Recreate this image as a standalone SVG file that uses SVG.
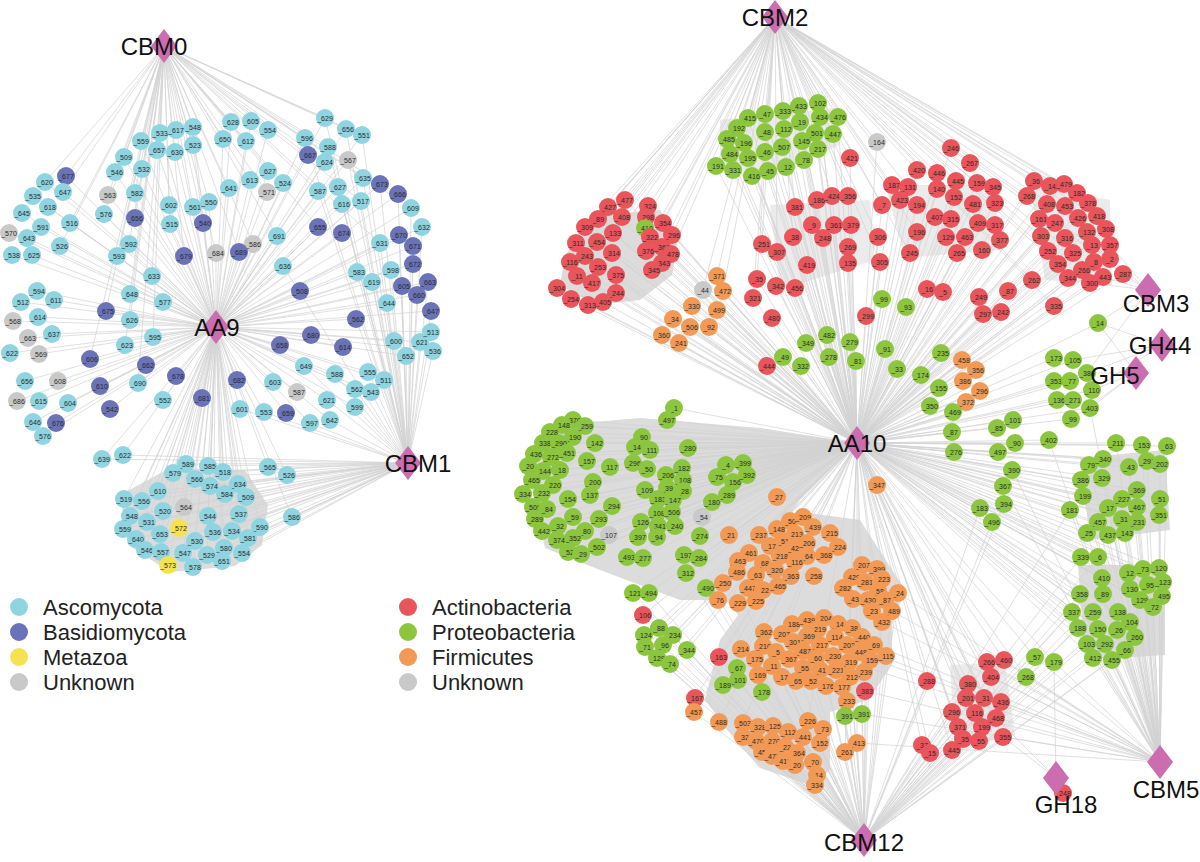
<svg xmlns="http://www.w3.org/2000/svg" width="1200" height="862" viewBox="0 0 1200 862">
<style>
circle{r:9px}
.A circle{fill:#8fd4e1}.B circle{fill:#6a72b8}.M circle{fill:#f5e251}.U circle{fill:#c9c9c9}
.R circle{fill:#e8555b}.G circle{fill:#8cc63e}.F circle{fill:#f29a55}
.nd text{font-family:"Liberation Sans",Arial,sans-serif;font-size:7px;fill:#2a2a2a;text-anchor:middle}
.e{fill:none;stroke:#d2d2d2;stroke-width:0.7}
.blob{fill:#dcdcdc}
.soft{fill:#e2e2e2;opacity:.7}
.hub polygon{fill:#cc6db0}
.hub text{font-family:"Liberation Sans",Arial,sans-serif;font-size:24px;fill:#111;text-anchor:middle}
.lg text{font-family:"Liberation Sans",Arial,sans-serif;font-size:22px;fill:#222;text-anchor:start}
</style>
<rect width="1200" height="862" fill="#fff"/>
<g id="blobs">
<polygon class="blob" points="120,495 170,468 245,470 268,505 262,545 235,566 170,572 128,545"/>
<polygon class="blob" points="565,255 600,215 660,210 678,240 672,275 640,300 595,305 560,285"/>
<polygon class="blob" points="560,425 640,418 760,428 857,443 800,500 760,560 720,600 680,600 600,570 545,548 528,470"/>
<polygon class="blob" points="735,550 800,512 860,520 905,590 892,625 892,665 868,700 830,712 830,770 810,785 760,768 735,740 705,700 720,640 738,615 722,595"/>
<polygon class="blob" points="1080,458 1165,450 1170,530 1090,540"/>
<polygon class="blob" points="1078,565 1165,565 1165,655 1085,660"/>
<polygon class="soft" points="885,185 995,185 1000,250 905,258"/>
<polygon class="soft" points="1030,185 1110,200 1112,285 1045,280"/>
<polygon class="soft" points="770,205 870,200 875,260 780,290"/>
<polygon class="soft" points="720,120 835,108 840,145 770,175 720,168"/>
<polygon class="soft" points="950,665 1005,662 1015,735 955,750"/>
</g>
<g id="connectors">
<path class="e" d="M216 327L141 141M216 327L160 133M216 327L176 130M216 327L193 127M216 327L157 150M216 327L175 152M216 327L193 145M216 327L124 157M216 327L115 172M216 327L142 169M216 327L108 195M216 327L135 193M216 327L104 214M216 327L135 218M216 327L169 205M216 327L193 207M216 327L170 224M216 327L203 223M216 327L129 244M216 327L117 256M216 327L184 256M216 327L45 182M216 327L66 176M216 327L33 196M216 327L63 192M216 327L48 207M216 327L22 213M216 327L70 223M216 327L9 233M216 327L41 227M216 327L27 238M216 327L60 246M216 327L12 255M216 327L32 255M216 327L231 122M216 327L251 121M216 327L268 130M216 327L223 139M216 327L246 141M216 327L325 118M216 327L346 129M216 327L362 135M216 327L305 138M216 327L308 155M216 327L328 147M216 327L325 162M216 327L348 160M216 327L268 171M216 327L250 180M216 327L283 183M216 327L267 192M216 327L229 188M216 327L363 178M216 327L380 184M216 327L318 191M216 327L338 187M216 327L398 194M216 327L342 204M216 327L361 201M216 327L411 208M216 327L209 202M216 327L277 236M216 327L318 227M216 327L342 233M216 327L422 227M216 327L399 235M216 327L380 243M216 327L413 246M216 327L253 244M216 327L239 252M216 327L216 253M216 327L152 276M216 327L37 291M216 327L21 302M216 327L54 300M216 327L130 294M216 327L163 302M216 327L106 311M216 327L38 317M216 327L13 321M216 327L130 320M216 327L52 334M216 327L28 338M216 327L153 337M216 327L125 345M216 327L39 354M216 327L10 353M216 327L90 359M216 327L146 365M216 327L176 376M216 327L25 381M216 327L58 381M216 327L100 386M216 327L138 383M216 327L17 401M216 327L39 401M216 327L68 403M216 327L163 400M216 327L202 398M216 327L110 409M216 327L33 422M216 327L56 423M216 327L43 436M216 327L283 266M216 327L357 272M216 327L391 270M216 327L413 264M216 327L372 282M216 327L402 286M216 327L428 282M216 327L417 295M216 327L300 291M216 327L387 303M216 327L356 319M216 327L311 335M216 327L280 345M216 327L343 347M216 327L394 341M216 327L420 342M216 327L406 356M216 327L304 366M216 327L335 374M216 327L368 372M216 327L384 380M216 327L355 389M216 327L371 392M216 327L237 380M216 327L273 382M216 327L297 392M216 327L327 400M216 327L355 407M216 327L240 409M216 327L264 412M216 327L286 413M216 327L310 423M216 327L330 420M216 327L431 332M216 327L433 351M216 327L431 311M216 327L102 459M216 327L123 455M216 327L186 464M216 327L208 466M216 327L223 472M216 327L173 473M216 327L195 479M216 327L210 486M216 327L238 484M216 327L268 467M216 327L287 475M216 327L158 491M216 327L124 499M216 327L142 501M216 327L225 494M216 327L246 497M216 327L184 507M216 327L163 511M216 327L130 516M216 327L208 516M216 327L239 514M216 327L292 517M216 327L147 522M216 327L123 529M216 327L179 528M216 327L160 534M216 327L213 532M216 327L232 531M216 327L260 527M216 327L195 541M216 327L136 539M216 327L248 538M216 327L145 550M216 327L161 552M216 327L183 553M216 327L224 548M216 327L207 555M216 327L242 553M216 327L222 561M216 327L168 565M216 327L193 567"/>
<path class="e" d="M164 46L141 141M164 46L160 133M164 46L176 130M164 46L193 127M164 46L157 150M164 46L175 152M164 46L193 145M164 46L124 157M164 46L115 172M164 46L142 169M164 46L108 195M164 46L135 193M164 46L104 214M164 46L135 218M164 46L169 205M164 46L193 207M164 46L170 224M164 46L203 223M164 46L129 244M164 46L117 256M164 46L184 256M164 46L45 182M164 46L66 176M164 46L63 192M164 46L70 223M164 46L60 246M164 46L231 122M164 46L251 121M164 46L268 130M164 46L223 139M164 46L246 141M164 46L325 118M164 46L346 129M164 46L362 135M164 46L305 138M164 46L308 155M164 46L328 147M164 46L325 162M164 46L268 171M164 46L250 180M164 46L283 183M164 46L267 192M164 46L229 188M164 46L363 178M164 46L318 191M164 46L398 194M164 46L361 201M164 46L411 208M164 46L209 202M164 46L277 236M164 46L318 227M164 46L380 243M164 46L253 244M164 46L239 252M164 46L216 253M164 46L152 276M164 46L130 294M164 46L106 311M164 46L130 320M164 46L153 337M164 46L125 345M164 46L90 359M164 46L138 383"/>
<path class="e" d="M408 463L102 459M408 463L123 455M408 463L186 464M408 463L208 466M408 463L223 472M408 463L173 473M408 463L195 479M408 463L210 486M408 463L238 484M408 463L268 467M408 463L287 475M408 463L158 491M408 463L124 499M408 463L142 501M408 463L225 494M408 463L246 497M408 463L163 511M408 463L130 516M408 463L208 516M408 463L239 514M408 463L292 517M408 463L147 522M408 463L123 529M408 463L160 534M408 463L213 532M408 463L232 531M408 463L260 527M408 463L195 541M408 463L136 539M408 463L248 538M408 463L145 550M408 463L161 552M408 463L224 548M408 463L242 553M408 463L222 561M408 463L193 567M408 463L325 118M408 463L346 129M408 463L362 135M408 463L305 138M408 463L328 147M408 463L348 160M408 463L363 178M408 463L380 184M408 463L318 191M408 463L338 187M408 463L398 194M408 463L342 204M408 463L361 201M408 463L411 208M408 463L422 227M408 463L399 235M408 463L380 243M408 463L413 246M408 463L283 266M408 463L357 272M408 463L391 270M408 463L413 264M408 463L372 282M408 463L402 286M408 463L428 282M408 463L417 295M408 463L387 303M408 463L356 319M408 463L394 341M408 463L420 342M408 463L406 356M408 463L304 366M408 463L335 374M408 463L368 372M408 463L384 380M408 463L355 389M408 463L371 392M408 463L327 400M408 463L355 407M408 463L310 423M408 463L330 420M408 463L431 332M408 463L433 351M408 463L431 311M408 463L264 412M408 463L240 409"/>
<path class="e" d="M857 443L625 200M857 443L608 207M857 443L648 206M857 443L598 219M857 443L622 217M857 443L646 217M857 443L585 227M857 443L663 223M857 443L645 228M857 443L613 233M857 443L650 237M857 443L672 235M857 443L576 243M857 443L597 242M857 443L585 256M857 443L612 253M857 443L646 251M857 443L662 247M857 443L671 254M857 443L570 262M857 443L598 267M857 443L577 276M857 443L592 283M857 443L616 275M857 443L662 263M857 443L652 270M857 443L557 288M857 443L616 293M857 443L571 299M857 443L603 302M857 443L588 305M857 443L717 276M857 443L703 290M857 443L723 291M857 443L692 306M857 443L717 310M857 443L673 319M857 443L690 327M857 443L709 327M857 443L662 335M857 443L679 343M857 443L818 103M857 443L799 106M857 443L783 111M857 443L765 114M857 443L748 118M857 443L820 117M857 443L838 117M857 443L800 122M857 443L737 128M857 443L765 132M857 443L784 129M857 443L815 133M857 443L833 134M857 443L727 139M857 443L744 143M857 443L802 141M857 443L782 147M857 443L818 149M857 443L730 154M857 443L765 152M857 443L748 158M857 443L804 160M857 443L716 166M857 443L733 170M857 443L786 167M857 443L768 171M857 443L752 176M857 443L877 142M857 443L850 158M857 443L795 207M857 443L817 200M857 443L832 196M857 443L848 196M857 443L812 225M857 443L834 225M857 443L851 225M857 443L793 237M857 443L823 238M857 443L762 244M857 443L777 252M857 443L848 247M857 443L878 237M857 443L807 265M857 443L848 263M857 443L880 262M857 443L757 279M857 443L776 286M857 443L795 288M857 443L753 298M857 443L772 318M857 443L866 316M857 443L767 366M857 443L806 343M857 443L827 335M857 443L850 342M857 443L783 357M857 443L829 357M857 443L856 361M857 443L885 349M857 443L801 366M857 443L897 369M857 443L882 299M857 443L906 307M857 443L951 148M857 443L970 163M857 443L917 170M857 443L937 173M857 443L892 185M857 443L908 187M857 443L956 181M857 443L977 183M857 443L993 187M857 443L937 189M857 443L900 200M857 443L954 197M857 443L882 205M857 443L917 205M857 443L973 204M857 443L995 203M857 443L935 217M857 443L951 219M857 443L978 223M857 443L995 225M857 443L917 232M857 443L946 237M857 443L965 237M857 443L1000 240M857 443L910 253M857 443L957 253M857 443L982 250M857 443L927 289M857 443L943 292M857 443L979 297M857 443L1008 291M857 443L1032 280M857 443L1054 306M857 443L983 314M857 443L1001 312M857 443L1034 181M857 443L1050 186M857 443L1064 184M857 443L1027 196M857 443L1077 193M857 443L1088 203M857 443L1047 204M857 443L1065 206M857 443L1097 216M857 443L1039 219M857 443L1055 223M857 443L1078 218M857 443L1106 229M857 443L1087 232M857 443L1041 236M857 443L1065 238M857 443L1092 245M857 443L1110 245M857 443L1048 251M857 443L1073 253M857 443L1058 264M857 443L1094 262M857 443L1110 259M857 443L1082 270M857 443L1068 278M857 443L1103 277M857 443L1090 283M857 443L1123 274M857 443L1098 323M857 443L941 353M857 443L921 375M857 443L939 388M857 443L962 360M857 443L976 370M857 443L963 381M857 443L980 391M857 443L966 402M857 443L930 406M857 443L953 412M857 443L952 432M857 443L954 452M857 443L1013 420M857 443L997 428M857 443L1015 443M857 443L998 452M857 443L1012 470M857 443L1003 486M857 443L1004 504M857 443L980 508M857 443L992 522M857 443L1049 440M857 443L1054 358M857 443L1073 360M857 443L1054 381M857 443L1070 381M857 443L1087 373M857 443L1092 390M857 443L1057 400M857 443L1073 400M857 443L1090 408M857 443L1071 419M857 443L1116 443M857 443L1142 445M857 443L1167 446M857 443L1089 465M857 443L1103 459M857 443L1129 467M857 443L1147 461M857 443L1160 464M857 443L1081 480M857 443L1102 478M857 443L1137 490M857 443L1083 496M857 443L1160 499M857 443L1122 499M857 443L1070 510M857 443L1108 508M857 443L1137 507M857 443L1159 515M857 443L1098 522M857 443L1122 519M857 443L1137 522M857 443L1087 533M857 443L1108 535M857 443L1125 533M857 443L1081 557M857 443L1098 557M857 443L1128 573M857 443L1143 569M857 443L1159 568M857 443L1102 578M857 443L1130 589M857 443L1148 585M857 443L1163 582M857 443L1080 594M857 443L1103 594M857 443L1140 600M857 443L1162 596M857 443L1153 607M857 443L1072 612M857 443L1093 612M857 443L1118 612M857 443L1130 622M857 443L1078 628M857 443L1098 629M857 443L1117 630M857 443L1135 637M857 443L1087 644M857 443L1105 644M857 443L1125 650M857 443L1093 658M857 443L1112 660M857 443L1035 657M857 443L1054 662M857 443L987 662M857 443L1004 660M857 443L968 684M857 443L991 677M857 443L966 698M857 443L984 698M857 443L1001 702M857 443L952 712M857 443L975 713M857 443L996 718M857 443L958 727M857 443L982 727M857 443L963 739M857 443L979 741M857 443L952 750M857 443L1003 737M857 443L922 745M857 443L930 753M857 443L927 681M857 443L1026 677M857 443L674 408M857 443L667 420M857 443L573 420M857 443L562 425M857 443L585 426M857 443L550 432M857 443L573 437M857 443L543 443M857 443L559 443M857 443L595 443M857 443L642 437M857 443L635 447M857 443L650 450M857 443L688 448M857 443L534 454M857 443L551 457M857 443L567 453M857 443L587 461M857 443L610 467M857 443L633 463M857 443L528 466M857 443L543 471M857 443L560 470M857 443L647 469M857 443L666 475M857 443L682 468M857 443L683 480M857 443L532 480M857 443L553 485M857 443L593 482M857 443L523 494M857 443L542 493M857 443L590 495M857 443L645 490M857 443L667 488M857 443L683 491M857 443L568 499M857 443L658 499M857 443L673 500M857 443L717 477M857 443L726 465M857 443L743 463M857 443L733 482M857 443L747 475M857 443L727 495M857 443L712 502M857 443L612 506M857 443L533 507M857 443L547 509M857 443L657 513M857 443L672 512M857 443L573 517M857 443L702 517M857 443L535 519M857 443L599 519M857 443L641 522M857 443L658 526M857 443L675 526M857 443L558 526M857 443L542 531M857 443L585 531M857 443L609 535M857 443L573 538M857 443L557 540M857 443L638 537M857 443L657 537M857 443L700 536M857 443L729 535M857 443L759 535M857 443L597 547M857 443L568 552M857 443L581 554M857 443L627 557M857 443L643 558M857 443L684 555M857 443L699 558M857 443L686 573M857 443L706 588M857 443L633 593M857 443L649 593M857 443L777 497M857 443L877 485M857 443L643 615M857 443L659 628M857 443L644 635M857 443L673 635M857 443L663 645M857 443L645 647M857 443L687 650M857 443L657 658M857 443L670 664M857 443L719 657M857 443L737 668M857 443L738 680M857 443L723 685M857 443L762 692M857 443L695 698M857 443L694 712M857 443L865 691M857 443L847 701M857 443L845 716M857 443L862 714M857 443L719 722M857 443L857 743M857 443L845 752M857 443L898 593M857 443L892 611M857 443L882 622M857 443L883 657M857 443L743 723M857 443L808 721"/>
<path class="e" d="M775 17L818 103M775 17L799 106M775 17L783 111M775 17L765 114M775 17L748 118M775 17L820 117M775 17L838 117M775 17L800 122M775 17L737 128M775 17L765 132M775 17L784 129M775 17L815 133M775 17L833 134M775 17L727 139M775 17L744 143M775 17L802 141M775 17L730 154M775 17L716 166M775 17L733 170M775 17L752 176M775 17L877 142M775 17L850 158M775 17L625 200M775 17L608 207M775 17L648 206M775 17L598 219M775 17L622 217M775 17L646 217M775 17L585 227M775 17L663 223M775 17L613 233M775 17L650 237M775 17L672 235M775 17L576 243M775 17L597 242M775 17L646 251M775 17L662 247M775 17L671 254M775 17L570 262M775 17L557 288M775 17L571 299M775 17L795 207M775 17L817 200M775 17L832 196M775 17L848 196M775 17L812 225M775 17L793 237M775 17L762 244M775 17L777 252M775 17L757 279M775 17L753 298M775 17L878 237M775 17L880 262M775 17L951 148M775 17L970 163M775 17L917 170M775 17L937 173M775 17L892 185M775 17L908 187M775 17L956 181M775 17L977 183M775 17L993 187M775 17L900 200M775 17L882 205M775 17L917 232M775 17L910 253M775 17L1000 240M775 17L1034 181M775 17L1050 186M775 17L1064 184M775 17L1027 196M775 17L1077 193M775 17L1088 203M775 17L1097 216M775 17L1106 229M775 17L1110 245M775 17L1110 259M775 17L1123 274M775 17L1103 277M775 17L1041 236M775 17L1048 251M775 17L1058 264M775 17L1032 280M775 17L1054 306M775 17L717 276M775 17L703 290M775 17L723 291"/>
<path class="e" d="M864 840L743 723M864 840L758 727M864 840L773 726M864 840L788 732M864 840L808 721M864 840L823 729M864 840L743 737M864 840L756 741M864 840L772 741M864 840L803 737M864 840L820 743M864 840L785 747M864 840L762 752M864 840L797 753M864 840L772 756M864 840L783 761M864 840L795 765M864 840L813 762M864 840L817 775M864 840L815 785M864 840L857 743M864 840L845 752M864 840L719 722M864 840L694 712M864 840L695 698M864 840L762 692M864 840L723 685M864 840L738 680M864 840L737 668M864 840L719 657M864 840L670 664M864 840L657 658M864 840L687 650M864 840L645 647M864 840L663 645M864 840L644 635M864 840L673 635M864 840L659 628M864 840L643 615M864 840L865 691M864 840L847 701M864 840L845 716M864 840L862 714M864 840L741 649M864 840L753 657M864 840L758 668M864 840L783 672M864 840L798 676M864 840L812 676M864 840L827 681M864 840L838 681M864 840L850 672M864 840L862 666M864 840L883 657M864 840L867 657M864 840L849 658M864 840L835 666M864 840L822 666M864 840L803 665M864 840L772 662M864 840L763 644M864 840L765 632M864 840L870 643M864 840L882 622M864 840L892 611M864 840L898 593M864 840L922 745M864 840L930 753M864 840L927 681M864 840L952 750M864 840L963 739M864 840L979 741M864 840L958 727M864 840L982 727M864 840L952 712M864 840L975 713M864 840L996 718M864 840L1003 737M864 840L966 698M864 840L968 684M864 840L987 662M864 840L1004 660M864 840L1035 657M864 840L1054 662M864 840L1072 612M864 840L1078 628M864 840L1087 644M864 840L1093 658M864 840L1112 660M864 840L1125 650M864 840L1080 594M864 840L1081 557M864 840L1098 557M864 840L1070 510M864 840L1102 578M864 840L1093 612M864 840L1103 594M864 840L1105 644M864 840L1098 629M864 840L992 522M864 840L980 508M864 840L1004 504M864 840L706 588M864 840L686 573M864 840L633 593M864 840L649 593M864 840L718 598M864 840L742 601"/>
<path class="e" d="M1160 762L1116 443M1160 762L1142 445M1160 762L1167 446M1160 762L1089 465M1160 762L1103 459M1160 762L1129 467M1160 762L1147 461M1160 762L1160 464M1160 762L1081 480M1160 762L1102 478M1160 762L1137 490M1160 762L1083 496M1160 762L1160 499M1160 762L1122 499M1160 762L1070 510M1160 762L1108 508M1160 762L1137 507M1160 762L1159 515M1160 762L1098 522M1160 762L1122 519M1160 762L1137 522M1160 762L1087 533M1160 762L1108 535M1160 762L1125 533M1160 762L1081 557M1160 762L1098 557M1160 762L1128 573M1160 762L1143 569M1160 762L1159 568M1160 762L1102 578M1160 762L1130 589M1160 762L1148 585M1160 762L1163 582M1160 762L1080 594M1160 762L1103 594M1160 762L1140 600M1160 762L1162 596M1160 762L1153 607M1160 762L1072 612M1160 762L1093 612M1160 762L1118 612M1160 762L1130 622M1160 762L1078 628M1160 762L1098 629M1160 762L1117 630M1160 762L1135 637M1160 762L1087 644M1160 762L1105 644M1160 762L1125 650M1160 762L1093 658M1160 762L1112 660M1160 762L1035 657M1160 762L1054 662M1160 762L987 662M1160 762L1004 660M1160 762L991 677M1160 762L1001 702M1160 762L996 718M1160 762L1003 737M1160 762L1026 677M1160 762L898 593M1160 762L892 611M1160 762L882 622M1160 762L883 657M1160 762L867 657M1160 762L870 643M1160 762L862 666M1160 762L865 691M1160 762L862 714M1160 762L857 743M1160 762L1090 408M1160 762L1049 440M1160 762L1012 470M1160 762L1003 486"/>
<path class="e" d="M1148 290L1098 323M1148 290L1103 277M1148 290L1110 259M1148 290L1123 274M1148 290L1090 283M1148 290L1110 245M1148 290L1087 373M1162 345L1098 323M1162 345L1092 390M1162 345L1073 360M1162 345L1087 373M1136 373L1092 390M1136 373L1087 373M1136 373L1090 408M1136 373L1098 323M1136 373L1071 419M1056 778L1063 793M1056 778L1003 737M1056 778L996 718M1056 778L1054 662"/>
</g>
<g id="nodes-left" class="nd">
<g id="n1" class="A"><circle cx="141" cy="141"/><text x="141" y="143.5">_559</text></g>
<g id="n2" class="A"><circle cx="160" cy="133"/><text x="160" y="135.5">_533</text></g>
<g id="n3" class="A"><circle cx="176" cy="130"/><text x="176" y="132.5">_617</text></g>
<g id="n4" class="A"><circle cx="193" cy="127"/><text x="193" y="129.5">_548</text></g>
<g id="n5" class="A"><circle cx="157" cy="150"/><text x="157" y="152.5">_657</text></g>
<g id="n6" class="A"><circle cx="175" cy="152"/><text x="175" y="154.5">_630</text></g>
<g id="n7" class="A"><circle cx="193" cy="145"/><text x="193" y="147.5">_523</text></g>
<g id="n8" class="A"><circle cx="124" cy="157"/><text x="124" y="159.5">_509</text></g>
<g id="n9" class="A"><circle cx="115" cy="172"/><text x="115" y="174.5">_546</text></g>
<g id="n10" class="A"><circle cx="142" cy="169"/><text x="142" y="171.5">_532</text></g>
<g id="n11" class="U"><circle cx="108" cy="195"/><text x="108" y="197.5">_563</text></g>
<g id="n12" class="A"><circle cx="135" cy="193"/><text x="135" y="195.5">_582</text></g>
<g id="n13" class="A"><circle cx="104" cy="214"/><text x="104" y="216.5">_576</text></g>
<g id="n14" class="B"><circle cx="135" cy="218"/><text x="135" y="220.5">_656</text></g>
<g id="n15" class="A"><circle cx="169" cy="205"/><text x="169" y="207.5">_602</text></g>
<g id="n16" class="A"><circle cx="193" cy="207"/><text x="193" y="209.5">_561</text></g>
<g id="n17" class="A"><circle cx="170" cy="224"/><text x="170" y="226.5">_515</text></g>
<g id="n18" class="B"><circle cx="203" cy="223"/><text x="203" y="225.5">_540</text></g>
<g id="n19" class="A"><circle cx="129" cy="244"/><text x="129" y="246.5">_592</text></g>
<g id="n20" class="A"><circle cx="117" cy="256"/><text x="117" y="258.5">_593</text></g>
<g id="n21" class="B"><circle cx="184" cy="256"/><text x="184" y="258.5">_679</text></g>
<g id="n22" class="A"><circle cx="45" cy="182"/><text x="45" y="184.5">_620</text></g>
<g id="n23" class="B"><circle cx="66" cy="176"/><text x="66" y="178.5">_677</text></g>
<g id="n24" class="A"><circle cx="33" cy="196"/><text x="33" y="198.5">_535</text></g>
<g id="n25" class="A"><circle cx="63" cy="192"/><text x="63" y="194.5">_647</text></g>
<g id="n26" class="A"><circle cx="48" cy="207"/><text x="48" y="209.5">_618</text></g>
<g id="n27" class="A"><circle cx="22" cy="213"/><text x="22" y="215.5">_645</text></g>
<g id="n28" class="A"><circle cx="70" cy="223"/><text x="70" y="225.5">_516</text></g>
<g id="n29" class="U"><circle cx="9" cy="233"/><text x="9" y="235.5">_570</text></g>
<g id="n30" class="A"><circle cx="41" cy="227"/><text x="41" y="229.5">_591</text></g>
<g id="n31" class="A"><circle cx="27" cy="238"/><text x="27" y="240.5">_643</text></g>
<g id="n32" class="A"><circle cx="60" cy="246"/><text x="60" y="248.5">_526</text></g>
<g id="n33" class="A"><circle cx="12" cy="255"/><text x="12" y="257.5">_538</text></g>
<g id="n34" class="A"><circle cx="32" cy="255"/><text x="32" y="257.5">_625</text></g>
<g id="n35" class="A"><circle cx="231" cy="122"/><text x="231" y="124.5">_628</text></g>
<g id="n36" class="A"><circle cx="251" cy="121"/><text x="251" y="123.5">_605</text></g>
<g id="n37" class="A"><circle cx="268" cy="130"/><text x="268" y="132.5">_554</text></g>
<g id="n38" class="A"><circle cx="223" cy="139"/><text x="223" y="141.5">_650</text></g>
<g id="n39" class="A"><circle cx="246" cy="141"/><text x="246" y="143.5">_612</text></g>
<g id="n40" class="A"><circle cx="325" cy="118"/><text x="325" y="120.5">_629</text></g>
<g id="n41" class="A"><circle cx="346" cy="129"/><text x="346" y="131.5">_656</text></g>
<g id="n42" class="A"><circle cx="362" cy="135"/><text x="362" y="137.5">_551</text></g>
<g id="n43" class="A"><circle cx="305" cy="138"/><text x="305" y="140.5">_596</text></g>
<g id="n44" class="B"><circle cx="308" cy="155"/><text x="308" y="157.5">_667</text></g>
<g id="n45" class="A"><circle cx="328" cy="147"/><text x="328" y="149.5">_588</text></g>
<g id="n46" class="A"><circle cx="325" cy="162"/><text x="325" y="164.5">_624</text></g>
<g id="n47" class="U"><circle cx="348" cy="160"/><text x="348" y="162.5">_567</text></g>
<g id="n48" class="A"><circle cx="268" cy="171"/><text x="268" y="173.5">_627</text></g>
<g id="n49" class="A"><circle cx="250" cy="180"/><text x="250" y="182.5">_613</text></g>
<g id="n50" class="A"><circle cx="283" cy="183"/><text x="283" y="185.5">_524</text></g>
<g id="n51" class="U"><circle cx="267" cy="192"/><text x="267" y="194.5">_571</text></g>
<g id="n52" class="A"><circle cx="229" cy="188"/><text x="229" y="190.5">_641</text></g>
<g id="n53" class="A"><circle cx="363" cy="178"/><text x="363" y="180.5">_635</text></g>
<g id="n54" class="B"><circle cx="380" cy="184"/><text x="380" y="186.5">_673</text></g>
<g id="n55" class="A"><circle cx="318" cy="191"/><text x="318" y="193.5">_587</text></g>
<g id="n56" class="A"><circle cx="338" cy="187"/><text x="338" y="189.5">_627</text></g>
<g id="n57" class="B"><circle cx="398" cy="194"/><text x="398" y="196.5">_666</text></g>
<g id="n58" class="A"><circle cx="342" cy="204"/><text x="342" y="206.5">_616</text></g>
<g id="n59" class="A"><circle cx="361" cy="201"/><text x="361" y="203.5">_517</text></g>
<g id="n60" class="A"><circle cx="411" cy="208"/><text x="411" y="210.5">_609</text></g>
<g id="n61" class="A"><circle cx="209" cy="202"/><text x="209" y="204.5">_550</text></g>
<g id="n62" class="A"><circle cx="277" cy="236"/><text x="277" y="238.5">_691</text></g>
<g id="n63" class="B"><circle cx="318" cy="227"/><text x="318" y="229.5">_655</text></g>
<g id="n64" class="B"><circle cx="342" cy="233"/><text x="342" y="235.5">_674</text></g>
<g id="n65" class="A"><circle cx="422" cy="227"/><text x="422" y="229.5">_632</text></g>
<g id="n66" class="B"><circle cx="399" cy="235"/><text x="399" y="237.5">_670</text></g>
<g id="n67" class="A"><circle cx="380" cy="243"/><text x="380" y="245.5">_631</text></g>
<g id="n68" class="B"><circle cx="413" cy="246"/><text x="413" y="248.5">_671</text></g>
<g id="n69" class="U"><circle cx="253" cy="244"/><text x="253" y="246.5">_586</text></g>
<g id="n70" class="B"><circle cx="239" cy="252"/><text x="239" y="254.5">_689</text></g>
<g id="n71" class="U"><circle cx="216" cy="253"/><text x="216" y="255.5">_684</text></g>
<g id="n72" class="A"><circle cx="152" cy="276"/><text x="152" y="278.5">_633</text></g>
<g id="n73" class="A"><circle cx="37" cy="291"/><text x="37" y="293.5">_594</text></g>
<g id="n74" class="A"><circle cx="21" cy="302"/><text x="21" y="304.5">_512</text></g>
<g id="n75" class="A"><circle cx="54" cy="300"/><text x="54" y="302.5">_611</text></g>
<g id="n76" class="A"><circle cx="130" cy="294"/><text x="130" y="296.5">_648</text></g>
<g id="n77" class="A"><circle cx="163" cy="302"/><text x="163" y="304.5">_577</text></g>
<g id="n78" class="B"><circle cx="106" cy="311"/><text x="106" y="313.5">_675</text></g>
<g id="n79" class="A"><circle cx="38" cy="317"/><text x="38" y="319.5">_614</text></g>
<g id="n80" class="U"><circle cx="13" cy="321"/><text x="13" y="323.5">_568</text></g>
<g id="n81" class="A"><circle cx="130" cy="320"/><text x="130" y="322.5">_626</text></g>
<g id="n82" class="A"><circle cx="52" cy="334"/><text x="52" y="336.5">_637</text></g>
<g id="n83" class="U"><circle cx="28" cy="338"/><text x="28" y="340.5">_663</text></g>
<g id="n84" class="A"><circle cx="153" cy="337"/><text x="153" y="339.5">_595</text></g>
<g id="n85" class="A"><circle cx="125" cy="345"/><text x="125" y="347.5">_623</text></g>
<g id="n86" class="U"><circle cx="39" cy="354"/><text x="39" y="356.5">_569</text></g>
<g id="n87" class="A"><circle cx="10" cy="353"/><text x="10" y="355.5">_622</text></g>
<g id="n88" class="B"><circle cx="90" cy="359"/><text x="90" y="361.5">_606</text></g>
<g id="n89" class="B"><circle cx="146" cy="365"/><text x="146" y="367.5">_662</text></g>
<g id="n90" class="B"><circle cx="176" cy="376"/><text x="176" y="378.5">_678</text></g>
<g id="n91" class="A"><circle cx="25" cy="381"/><text x="25" y="383.5">_656</text></g>
<g id="n92" class="U"><circle cx="58" cy="381"/><text x="58" y="383.5">_608</text></g>
<g id="n93" class="B"><circle cx="100" cy="386"/><text x="100" y="388.5">_610</text></g>
<g id="n94" class="A"><circle cx="138" cy="383"/><text x="138" y="385.5">_690</text></g>
<g id="n95" class="U"><circle cx="17" cy="401"/><text x="17" y="403.5">_686</text></g>
<g id="n96" class="A"><circle cx="39" cy="401"/><text x="39" y="403.5">_615</text></g>
<g id="n97" class="A"><circle cx="68" cy="403"/><text x="68" y="405.5">_604</text></g>
<g id="n98" class="A"><circle cx="163" cy="400"/><text x="163" y="402.5">_552</text></g>
<g id="n99" class="B"><circle cx="202" cy="398"/><text x="202" y="400.5">_681</text></g>
<g id="n100" class="B"><circle cx="110" cy="409"/><text x="110" y="411.5">_542</text></g>
<g id="n101" class="A"><circle cx="33" cy="422"/><text x="33" y="424.5">_646</text></g>
<g id="n102" class="B"><circle cx="56" cy="423"/><text x="56" y="425.5">_676</text></g>
<g id="n103" class="A"><circle cx="43" cy="436"/><text x="43" y="438.5">_576</text></g>
<g id="n104" class="A"><circle cx="283" cy="266"/><text x="283" y="268.5">_636</text></g>
<g id="n105" class="A"><circle cx="357" cy="272"/><text x="357" y="274.5">_583</text></g>
<g id="n106" class="A"><circle cx="391" cy="270"/><text x="391" y="272.5">_598</text></g>
<g id="n107" class="B"><circle cx="413" cy="264"/><text x="413" y="266.5">_672</text></g>
<g id="n108" class="A"><circle cx="372" cy="282"/><text x="372" y="284.5">_619</text></g>
<g id="n109" class="B"><circle cx="402" cy="286"/><text x="402" y="288.5">_605</text></g>
<g id="n110" class="B"><circle cx="428" cy="282"/><text x="428" y="284.5">_663</text></g>
<g id="n111" class="B"><circle cx="417" cy="295"/><text x="417" y="297.5">_660</text></g>
<g id="n112" class="B"><circle cx="300" cy="291"/><text x="300" y="293.5">_508</text></g>
<g id="n113" class="A"><circle cx="387" cy="303"/><text x="387" y="305.5">_644</text></g>
<g id="n114" class="B"><circle cx="356" cy="319"/><text x="356" y="321.5">_562</text></g>
<g id="n115" class="B"><circle cx="311" cy="335"/><text x="311" y="337.5">_680</text></g>
<g id="n116" class="B"><circle cx="280" cy="345"/><text x="280" y="347.5">_658</text></g>
<g id="n117" class="B"><circle cx="343" cy="347"/><text x="343" y="349.5">_614</text></g>
<g id="n118" class="A"><circle cx="394" cy="341"/><text x="394" y="343.5">_600</text></g>
<g id="n119" class="A"><circle cx="420" cy="342"/><text x="420" y="344.5">_621</text></g>
<g id="n120" class="A"><circle cx="406" cy="356"/><text x="406" y="358.5">_652</text></g>
<g id="n121" class="A"><circle cx="304" cy="366"/><text x="304" y="368.5">_649</text></g>
<g id="n122" class="A"><circle cx="335" cy="374"/><text x="335" y="376.5">_588</text></g>
<g id="n123" class="A"><circle cx="368" cy="372"/><text x="368" y="374.5">_555</text></g>
<g id="n124" class="A"><circle cx="384" cy="380"/><text x="384" y="382.5">_511</text></g>
<g id="n125" class="A"><circle cx="355" cy="389"/><text x="355" y="391.5">_562</text></g>
<g id="n126" class="A"><circle cx="371" cy="392"/><text x="371" y="394.5">_543</text></g>
<g id="n127" class="B"><circle cx="237" cy="380"/><text x="237" y="382.5">_682</text></g>
<g id="n128" class="A"><circle cx="273" cy="382"/><text x="273" y="384.5">_603</text></g>
<g id="n129" class="U"><circle cx="297" cy="392"/><text x="297" y="394.5">_587</text></g>
<g id="n130" class="A"><circle cx="327" cy="400"/><text x="327" y="402.5">_621</text></g>
<g id="n131" class="A"><circle cx="355" cy="407"/><text x="355" y="409.5">_599</text></g>
<g id="n132" class="A"><circle cx="240" cy="409"/><text x="240" y="411.5">_601</text></g>
<g id="n133" class="A"><circle cx="264" cy="412"/><text x="264" y="414.5">_553</text></g>
<g id="n134" class="B"><circle cx="286" cy="413"/><text x="286" y="415.5">_659</text></g>
<g id="n135" class="A"><circle cx="310" cy="423"/><text x="310" y="425.5">_597</text></g>
<g id="n136" class="A"><circle cx="330" cy="420"/><text x="330" y="422.5">_642</text></g>
<g id="n137" class="A"><circle cx="431" cy="332"/><text x="431" y="334.5">_513</text></g>
<g id="n138" class="A"><circle cx="433" cy="351"/><text x="433" y="353.5">_536</text></g>
<g id="n139" class="B"><circle cx="431" cy="311"/><text x="431" y="313.5">_647</text></g>
<g id="n141" class="A"><circle cx="102" cy="459"/><text x="102" y="461.5">_639</text></g>
<g id="n142" class="A"><circle cx="123" cy="455"/><text x="123" y="457.5">_622</text></g>
<g id="n143" class="A"><circle cx="186" cy="464"/><text x="186" y="466.5">_589</text></g>
<g id="n144" class="A"><circle cx="208" cy="466"/><text x="208" y="468.5">_585</text></g>
<g id="n145" class="A"><circle cx="223" cy="472"/><text x="223" y="474.5">_518</text></g>
<g id="n146" class="A"><circle cx="173" cy="473"/><text x="173" y="475.5">_579</text></g>
<g id="n147" class="A"><circle cx="195" cy="479"/><text x="195" y="481.5">_566</text></g>
<g id="n148" class="A"><circle cx="210" cy="486"/><text x="210" y="488.5">_574</text></g>
<g id="n149" class="A"><circle cx="238" cy="484"/><text x="238" y="486.5">_634</text></g>
<g id="n150" class="A"><circle cx="268" cy="467"/><text x="268" y="469.5">_565</text></g>
<g id="n151" class="A"><circle cx="287" cy="475"/><text x="287" y="477.5">_526</text></g>
<g id="n152" class="A"><circle cx="158" cy="491"/><text x="158" y="493.5">_610</text></g>
<g id="n153" class="A"><circle cx="124" cy="499"/><text x="124" y="501.5">_519</text></g>
<g id="n154" class="A"><circle cx="142" cy="501"/><text x="142" y="503.5">_556</text></g>
<g id="n155" class="A"><circle cx="225" cy="494"/><text x="225" y="496.5">_584</text></g>
<g id="n156" class="A"><circle cx="246" cy="497"/><text x="246" y="499.5">_509</text></g>
<g id="n157" class="U"><circle cx="184" cy="507"/><text x="184" y="509.5">_564</text></g>
<g id="n158" class="A"><circle cx="163" cy="511"/><text x="163" y="513.5">_520</text></g>
<g id="n159" class="A"><circle cx="130" cy="516"/><text x="130" y="518.5">_548</text></g>
<g id="n160" class="A"><circle cx="208" cy="516"/><text x="208" y="518.5">_544</text></g>
<g id="n161" class="A"><circle cx="239" cy="514"/><text x="239" y="516.5">_537</text></g>
<g id="n162" class="A"><circle cx="292" cy="517"/><text x="292" y="519.5">_586</text></g>
<g id="n163" class="A"><circle cx="147" cy="522"/><text x="147" y="524.5">_531</text></g>
<g id="n164" class="A"><circle cx="123" cy="529"/><text x="123" y="531.5">_559</text></g>
<g id="n165" class="M"><circle cx="179" cy="528"/><text x="179" y="530.5">_572</text></g>
<g id="n166" class="A"><circle cx="160" cy="534"/><text x="160" y="536.5">_653</text></g>
<g id="n167" class="A"><circle cx="213" cy="532"/><text x="213" y="534.5">_536</text></g>
<g id="n168" class="A"><circle cx="232" cy="531"/><text x="232" y="533.5">_534</text></g>
<g id="n169" class="A"><circle cx="260" cy="527"/><text x="260" y="529.5">_590</text></g>
<g id="n170" class="A"><circle cx="195" cy="541"/><text x="195" y="543.5">_530</text></g>
<g id="n171" class="A"><circle cx="136" cy="539"/><text x="136" y="541.5">_640</text></g>
<g id="n172" class="A"><circle cx="248" cy="538"/><text x="248" y="540.5">_581</text></g>
<g id="n173" class="A"><circle cx="145" cy="550"/><text x="145" y="552.5">_546</text></g>
<g id="n174" class="A"><circle cx="161" cy="552"/><text x="161" y="554.5">_557</text></g>
<g id="n175" class="A"><circle cx="183" cy="553"/><text x="183" y="555.5">_547</text></g>
<g id="n176" class="A"><circle cx="224" cy="548"/><text x="224" y="550.5">_580</text></g>
<g id="n177" class="A"><circle cx="207" cy="555"/><text x="207" y="557.5">_529</text></g>
<g id="n178" class="A"><circle cx="242" cy="553"/><text x="242" y="555.5">_554</text></g>
<g id="n179" class="A"><circle cx="222" cy="561"/><text x="222" y="563.5">_651</text></g>
<g id="n180" class="M"><circle cx="168" cy="565"/><text x="168" y="567.5">_573</text></g>
<g id="n181" class="A"><circle cx="193" cy="567"/><text x="193" y="569.5">_578</text></g>
</g>
<g id="nodes-right" class="nd">
<g id="r1" class="R"><circle cx="625" cy="200"/><text x="625" y="202.5">_477</text></g>
<g id="r2" class="R"><circle cx="608" cy="207"/><text x="608" y="209.5">_427</text></g>
<g id="r3" class="R"><circle cx="648" cy="206"/><text x="648" y="208.5">_324</text></g>
<g id="r4" class="R"><circle cx="598" cy="219"/><text x="598" y="221.5">_89</text></g>
<g id="r5" class="R"><circle cx="622" cy="217"/><text x="622" y="219.5">_408</text></g>
<g id="r6" class="R"><circle cx="646" cy="217"/><text x="646" y="219.5">_298</text></g>
<g id="r7" class="R"><circle cx="585" cy="227"/><text x="585" y="229.5">_309</text></g>
<g id="r8" class="R"><circle cx="663" cy="223"/><text x="663" y="225.5">_354</text></g>
<g id="r9" class="G"><circle cx="645" cy="228"/><text x="645" y="230.5">_410</text></g>
<g id="r10" class="R"><circle cx="613" cy="233"/><text x="613" y="235.5">_133</text></g>
<g id="r11" class="R"><circle cx="650" cy="237"/><text x="650" y="239.5">_322</text></g>
<g id="r12" class="R"><circle cx="672" cy="235"/><text x="672" y="237.5">_296</text></g>
<g id="r13" class="R"><circle cx="576" cy="243"/><text x="576" y="245.5">_311</text></g>
<g id="r14" class="R"><circle cx="597" cy="242"/><text x="597" y="244.5">_454</text></g>
<g id="r15" class="R"><circle cx="585" cy="256"/><text x="585" y="258.5">_243</text></g>
<g id="r16" class="R"><circle cx="612" cy="253"/><text x="612" y="255.5">_314</text></g>
<g id="r17" class="R"><circle cx="646" cy="251"/><text x="646" y="253.5">_376</text></g>
<g id="r18" class="R"><circle cx="662" cy="247"/><text x="662" y="249.5">_362</text></g>
<g id="r19" class="R"><circle cx="671" cy="254"/><text x="671" y="256.5">_478</text></g>
<g id="r20" class="R"><circle cx="570" cy="262"/><text x="570" y="264.5">_116</text></g>
<g id="r21" class="R"><circle cx="598" cy="267"/><text x="598" y="269.5">_253</text></g>
<g id="r22" class="R"><circle cx="577" cy="276"/><text x="577" y="278.5">_11</text></g>
<g id="r23" class="R"><circle cx="592" cy="283"/><text x="592" y="285.5">_417</text></g>
<g id="r24" class="R"><circle cx="616" cy="275"/><text x="616" y="277.5">_375</text></g>
<g id="r25" class="R"><circle cx="662" cy="263"/><text x="662" y="265.5">_343</text></g>
<g id="r26" class="R"><circle cx="652" cy="270"/><text x="652" y="272.5">_345</text></g>
<g id="r27" class="R"><circle cx="557" cy="288"/><text x="557" y="290.5">_304</text></g>
<g id="r28" class="R"><circle cx="616" cy="293"/><text x="616" y="295.5">_244</text></g>
<g id="r29" class="R"><circle cx="571" cy="299"/><text x="571" y="301.5">_254</text></g>
<g id="r30" class="R"><circle cx="603" cy="302"/><text x="603" y="304.5">_405</text></g>
<g id="r31" class="R"><circle cx="588" cy="305"/><text x="588" y="307.5">_313</text></g>
<g id="r32" class="F"><circle cx="717" cy="276"/><text x="717" y="278.5">_371</text></g>
<g id="r33" class="U"><circle cx="703" cy="290"/><text x="703" y="292.5">_44</text></g>
<g id="r34" class="F"><circle cx="723" cy="291"/><text x="723" y="293.5">_472</text></g>
<g id="r35" class="F"><circle cx="692" cy="306"/><text x="692" y="308.5">_330</text></g>
<g id="r36" class="F"><circle cx="717" cy="310"/><text x="717" y="312.5">_499</text></g>
<g id="r37" class="F"><circle cx="673" cy="319"/><text x="673" y="321.5">_34</text></g>
<g id="r38" class="F"><circle cx="690" cy="327"/><text x="690" y="329.5">_506</text></g>
<g id="r39" class="F"><circle cx="709" cy="327"/><text x="709" y="329.5">_92</text></g>
<g id="r40" class="F"><circle cx="662" cy="335"/><text x="662" y="337.5">_360</text></g>
<g id="r41" class="F"><circle cx="679" cy="343"/><text x="679" y="345.5">_241</text></g>
<g id="r42" class="G"><circle cx="818" cy="103"/><text x="818" y="105.5">_102</text></g>
<g id="r43" class="G"><circle cx="799" cy="106"/><text x="799" y="108.5">_433</text></g>
<g id="r44" class="G"><circle cx="783" cy="111"/><text x="783" y="113.5">_333</text></g>
<g id="r45" class="G"><circle cx="765" cy="114"/><text x="765" y="116.5">_47</text></g>
<g id="r46" class="G"><circle cx="748" cy="118"/><text x="748" y="120.5">_415</text></g>
<g id="r47" class="G"><circle cx="820" cy="117"/><text x="820" y="119.5">_434</text></g>
<g id="r48" class="G"><circle cx="838" cy="117"/><text x="838" y="119.5">_476</text></g>
<g id="r49" class="G"><circle cx="800" cy="122"/><text x="800" y="124.5">_19</text></g>
<g id="r50" class="G"><circle cx="737" cy="128"/><text x="737" y="130.5">_192</text></g>
<g id="r51" class="G"><circle cx="765" cy="132"/><text x="765" y="134.5">_48</text></g>
<g id="r52" class="G"><circle cx="784" cy="129"/><text x="784" y="131.5">_112</text></g>
<g id="r53" class="G"><circle cx="815" cy="133"/><text x="815" y="135.5">_501</text></g>
<g id="r54" class="G"><circle cx="833" cy="134"/><text x="833" y="136.5">_447</text></g>
<g id="r55" class="G"><circle cx="727" cy="139"/><text x="727" y="141.5">_485</text></g>
<g id="r56" class="G"><circle cx="744" cy="143"/><text x="744" y="145.5">_196</text></g>
<g id="r57" class="G"><circle cx="802" cy="141"/><text x="802" y="143.5">_145</text></g>
<g id="r58" class="G"><circle cx="782" cy="147"/><text x="782" y="149.5">_507</text></g>
<g id="r59" class="G"><circle cx="818" cy="149"/><text x="818" y="151.5">_217</text></g>
<g id="r60" class="G"><circle cx="730" cy="154"/><text x="730" y="156.5">_484</text></g>
<g id="r61" class="G"><circle cx="765" cy="152"/><text x="765" y="154.5">_46</text></g>
<g id="r62" class="G"><circle cx="748" cy="158"/><text x="748" y="160.5">_195</text></g>
<g id="r63" class="G"><circle cx="804" cy="160"/><text x="804" y="162.5">_78</text></g>
<g id="r64" class="G"><circle cx="716" cy="166"/><text x="716" y="168.5">_191</text></g>
<g id="r65" class="G"><circle cx="733" cy="170"/><text x="733" y="172.5">_331</text></g>
<g id="r66" class="G"><circle cx="786" cy="167"/><text x="786" y="169.5">_12</text></g>
<g id="r67" class="G"><circle cx="768" cy="171"/><text x="768" y="173.5">_45</text></g>
<g id="r68" class="G"><circle cx="752" cy="176"/><text x="752" y="178.5">_416</text></g>
<g id="r69" class="U"><circle cx="877" cy="142"/><text x="877" y="144.5">_164</text></g>
<g id="r70" class="R"><circle cx="850" cy="158"/><text x="850" y="160.5">_421</text></g>
<g id="r71" class="R"><circle cx="795" cy="207"/><text x="795" y="209.5">_381</text></g>
<g id="r72" class="R"><circle cx="817" cy="200"/><text x="817" y="202.5">_186</text></g>
<g id="r73" class="R"><circle cx="832" cy="196"/><text x="832" y="198.5">_424</text></g>
<g id="r74" class="R"><circle cx="848" cy="196"/><text x="848" y="198.5">_356</text></g>
<g id="r75" class="R"><circle cx="812" cy="225"/><text x="812" y="227.5">_9</text></g>
<g id="r76" class="R"><circle cx="834" cy="225"/><text x="834" y="227.5">_361</text></g>
<g id="r77" class="R"><circle cx="851" cy="225"/><text x="851" y="227.5">_379</text></g>
<g id="r78" class="R"><circle cx="793" cy="237"/><text x="793" y="239.5">_38</text></g>
<g id="r79" class="R"><circle cx="823" cy="238"/><text x="823" y="240.5">_248</text></g>
<g id="r80" class="R"><circle cx="762" cy="244"/><text x="762" y="246.5">_251</text></g>
<g id="r81" class="R"><circle cx="777" cy="252"/><text x="777" y="254.5">_307</text></g>
<g id="r82" class="R"><circle cx="848" cy="247"/><text x="848" y="249.5">_269</text></g>
<g id="r83" class="R"><circle cx="878" cy="237"/><text x="878" y="239.5">_306</text></g>
<g id="r84" class="R"><circle cx="807" cy="265"/><text x="807" y="267.5">_419</text></g>
<g id="r85" class="R"><circle cx="848" cy="263"/><text x="848" y="265.5">_135</text></g>
<g id="r86" class="R"><circle cx="880" cy="262"/><text x="880" y="264.5">_305</text></g>
<g id="r87" class="R"><circle cx="757" cy="279"/><text x="757" y="281.5">_35</text></g>
<g id="r88" class="R"><circle cx="776" cy="286"/><text x="776" y="288.5">_342</text></g>
<g id="r89" class="R"><circle cx="795" cy="288"/><text x="795" y="290.5">_456</text></g>
<g id="r90" class="R"><circle cx="753" cy="298"/><text x="753" y="300.5">_321</text></g>
<g id="r91" class="R"><circle cx="772" cy="318"/><text x="772" y="320.5">_480</text></g>
<g id="r92" class="R"><circle cx="866" cy="316"/><text x="866" y="318.5">_299</text></g>
<g id="r93" class="R"><circle cx="767" cy="366"/><text x="767" y="368.5">_444</text></g>
<g id="r94" class="G"><circle cx="806" cy="343"/><text x="806" y="345.5">_349</text></g>
<g id="r95" class="G"><circle cx="827" cy="335"/><text x="827" y="337.5">_482</text></g>
<g id="r96" class="G"><circle cx="850" cy="342"/><text x="850" y="344.5">_279</text></g>
<g id="r97" class="G"><circle cx="783" cy="357"/><text x="783" y="359.5">_49</text></g>
<g id="r98" class="G"><circle cx="829" cy="357"/><text x="829" y="359.5">_278</text></g>
<g id="r99" class="G"><circle cx="856" cy="361"/><text x="856" y="363.5">_81</text></g>
<g id="r100" class="G"><circle cx="885" cy="349"/><text x="885" y="351.5">_91</text></g>
<g id="r101" class="G"><circle cx="801" cy="366"/><text x="801" y="368.5">_332</text></g>
<g id="r102" class="G"><circle cx="897" cy="369"/><text x="897" y="371.5">_33</text></g>
<g id="r103" class="G"><circle cx="882" cy="299"/><text x="882" y="301.5">_99</text></g>
<g id="r104" class="G"><circle cx="906" cy="307"/><text x="906" y="309.5">_93</text></g>
<g id="r105" class="R"><circle cx="951" cy="148"/><text x="951" y="150.5">_246</text></g>
<g id="r106" class="R"><circle cx="970" cy="163"/><text x="970" y="165.5">_267</text></g>
<g id="r107" class="R"><circle cx="917" cy="170"/><text x="917" y="172.5">_420</text></g>
<g id="r108" class="R"><circle cx="937" cy="173"/><text x="937" y="175.5">_446</text></g>
<g id="r109" class="R"><circle cx="892" cy="185"/><text x="892" y="187.5">_187</text></g>
<g id="r110" class="R"><circle cx="908" cy="187"/><text x="908" y="189.5">_131</text></g>
<g id="r111" class="R"><circle cx="956" cy="181"/><text x="956" y="183.5">_445</text></g>
<g id="r112" class="R"><circle cx="977" cy="183"/><text x="977" y="185.5">_159</text></g>
<g id="r113" class="R"><circle cx="993" cy="187"/><text x="993" y="189.5">_345</text></g>
<g id="r114" class="R"><circle cx="937" cy="189"/><text x="937" y="191.5">_140</text></g>
<g id="r115" class="R"><circle cx="900" cy="200"/><text x="900" y="202.5">_423</text></g>
<g id="r116" class="R"><circle cx="954" cy="197"/><text x="954" y="199.5">_152</text></g>
<g id="r117" class="R"><circle cx="882" cy="205"/><text x="882" y="207.5">_7</text></g>
<g id="r118" class="R"><circle cx="917" cy="205"/><text x="917" y="207.5">_194</text></g>
<g id="r119" class="R"><circle cx="973" cy="204"/><text x="973" y="206.5">_481</text></g>
<g id="r120" class="R"><circle cx="995" cy="203"/><text x="995" y="205.5">_323</text></g>
<g id="r121" class="R"><circle cx="935" cy="217"/><text x="935" y="219.5">_407</text></g>
<g id="r122" class="R"><circle cx="951" cy="219"/><text x="951" y="221.5">_315</text></g>
<g id="r123" class="R"><circle cx="978" cy="223"/><text x="978" y="225.5">_409</text></g>
<g id="r124" class="R"><circle cx="995" cy="225"/><text x="995" y="227.5">_317</text></g>
<g id="r125" class="R"><circle cx="917" cy="232"/><text x="917" y="234.5">_196</text></g>
<g id="r126" class="R"><circle cx="946" cy="237"/><text x="946" y="239.5">_129</text></g>
<g id="r127" class="R"><circle cx="965" cy="237"/><text x="965" y="239.5">_463</text></g>
<g id="r128" class="R"><circle cx="1000" cy="240"/><text x="1000" y="242.5">_377</text></g>
<g id="r129" class="R"><circle cx="910" cy="253"/><text x="910" y="255.5">_245</text></g>
<g id="r130" class="R"><circle cx="957" cy="253"/><text x="957" y="255.5">_265</text></g>
<g id="r131" class="R"><circle cx="982" cy="250"/><text x="982" y="252.5">_160</text></g>
<g id="r132" class="R"><circle cx="927" cy="289"/><text x="927" y="291.5">_16</text></g>
<g id="r133" class="R"><circle cx="943" cy="292"/><text x="943" y="294.5">_5</text></g>
<g id="r134" class="R"><circle cx="979" cy="297"/><text x="979" y="299.5">_249</text></g>
<g id="r135" class="R"><circle cx="1008" cy="291"/><text x="1008" y="293.5">_87</text></g>
<g id="r136" class="R"><circle cx="1032" cy="280"/><text x="1032" y="282.5">_262</text></g>
<g id="r137" class="R"><circle cx="1054" cy="306"/><text x="1054" y="308.5">_335</text></g>
<g id="r138" class="R"><circle cx="983" cy="314"/><text x="983" y="316.5">_297</text></g>
<g id="r139" class="R"><circle cx="1001" cy="312"/><text x="1001" y="314.5">_242</text></g>
<g id="r140" class="R"><circle cx="1034" cy="181"/><text x="1034" y="183.5">_36</text></g>
<g id="r141" class="R"><circle cx="1050" cy="186"/><text x="1050" y="188.5">_14</text></g>
<g id="r142" class="R"><circle cx="1064" cy="184"/><text x="1064" y="186.5">_479</text></g>
<g id="r143" class="R"><circle cx="1027" cy="196"/><text x="1027" y="198.5">_268</text></g>
<g id="r144" class="R"><circle cx="1077" cy="193"/><text x="1077" y="195.5">_182</text></g>
<g id="r145" class="R"><circle cx="1088" cy="203"/><text x="1088" y="205.5">_378</text></g>
<g id="r146" class="R"><circle cx="1047" cy="204"/><text x="1047" y="206.5">_408</text></g>
<g id="r147" class="R"><circle cx="1065" cy="206"/><text x="1065" y="208.5">_453</text></g>
<g id="r148" class="R"><circle cx="1097" cy="216"/><text x="1097" y="218.5">_418</text></g>
<g id="r149" class="R"><circle cx="1039" cy="219"/><text x="1039" y="221.5">_161</text></g>
<g id="r150" class="R"><circle cx="1055" cy="223"/><text x="1055" y="225.5">_247</text></g>
<g id="r151" class="R"><circle cx="1078" cy="218"/><text x="1078" y="220.5">_426</text></g>
<g id="r152" class="R"><circle cx="1106" cy="229"/><text x="1106" y="231.5">_308</text></g>
<g id="r153" class="R"><circle cx="1087" cy="232"/><text x="1087" y="234.5">_132</text></g>
<g id="r154" class="R"><circle cx="1041" cy="236"/><text x="1041" y="238.5">_303</text></g>
<g id="r155" class="R"><circle cx="1065" cy="238"/><text x="1065" y="240.5">_316</text></g>
<g id="r156" class="R"><circle cx="1092" cy="245"/><text x="1092" y="247.5">_13</text></g>
<g id="r157" class="R"><circle cx="1110" cy="245"/><text x="1110" y="247.5">_357</text></g>
<g id="r158" class="R"><circle cx="1048" cy="251"/><text x="1048" y="253.5">_252</text></g>
<g id="r159" class="R"><circle cx="1073" cy="253"/><text x="1073" y="255.5">_325</text></g>
<g id="r160" class="R"><circle cx="1058" cy="264"/><text x="1058" y="266.5">_354</text></g>
<g id="r161" class="R"><circle cx="1094" cy="262"/><text x="1094" y="264.5">_8</text></g>
<g id="r162" class="R"><circle cx="1110" cy="259"/><text x="1110" y="261.5">_2</text></g>
<g id="r163" class="R"><circle cx="1082" cy="270"/><text x="1082" y="272.5">_266</text></g>
<g id="r164" class="R"><circle cx="1068" cy="278"/><text x="1068" y="280.5">_344</text></g>
<g id="r165" class="R"><circle cx="1103" cy="277"/><text x="1103" y="279.5">_443</text></g>
<g id="r166" class="R"><circle cx="1090" cy="283"/><text x="1090" y="285.5">_300</text></g>
<g id="r167" class="R"><circle cx="1123" cy="274"/><text x="1123" y="276.5">_287</text></g>
<g id="r168" class="G"><circle cx="1098" cy="323"/><text x="1098" y="325.5">_14</text></g>
<g id="r169" class="G"><circle cx="941" cy="353"/><text x="941" y="355.5">_235</text></g>
<g id="r170" class="G"><circle cx="921" cy="375"/><text x="921" y="377.5">_174</text></g>
<g id="r171" class="G"><circle cx="939" cy="388"/><text x="939" y="390.5">_155</text></g>
<g id="r172" class="F"><circle cx="962" cy="360"/><text x="962" y="362.5">_458</text></g>
<g id="r173" class="F"><circle cx="976" cy="370"/><text x="976" y="372.5">_356</text></g>
<g id="r174" class="F"><circle cx="963" cy="381"/><text x="963" y="383.5">_386</text></g>
<g id="r175" class="F"><circle cx="980" cy="391"/><text x="980" y="393.5">_296</text></g>
<g id="r176" class="F"><circle cx="966" cy="402"/><text x="966" y="404.5">_372</text></g>
<g id="r177" class="G"><circle cx="930" cy="406"/><text x="930" y="408.5">_350</text></g>
<g id="r178" class="G"><circle cx="953" cy="412"/><text x="953" y="414.5">_469</text></g>
<g id="r179" class="G"><circle cx="952" cy="432"/><text x="952" y="434.5">_87</text></g>
<g id="r180" class="G"><circle cx="954" cy="452"/><text x="954" y="454.5">_276</text></g>
<g id="r181" class="G"><circle cx="1013" cy="420"/><text x="1013" y="422.5">_101</text></g>
<g id="r182" class="G"><circle cx="997" cy="428"/><text x="997" y="430.5">_85</text></g>
<g id="r183" class="G"><circle cx="1015" cy="443"/><text x="1015" y="445.5">_90</text></g>
<g id="r184" class="G"><circle cx="998" cy="452"/><text x="998" y="454.5">_497</text></g>
<g id="r185" class="G"><circle cx="1012" cy="470"/><text x="1012" y="472.5">_390</text></g>
<g id="r186" class="G"><circle cx="1003" cy="486"/><text x="1003" y="488.5">_367</text></g>
<g id="r187" class="G"><circle cx="1004" cy="504"/><text x="1004" y="506.5">_394</text></g>
<g id="r188" class="G"><circle cx="980" cy="508"/><text x="980" y="510.5">_183</text></g>
<g id="r189" class="G"><circle cx="992" cy="522"/><text x="992" y="524.5">_496</text></g>
<g id="r190" class="G"><circle cx="1049" cy="440"/><text x="1049" y="442.5">_402</text></g>
<g id="r191" class="G"><circle cx="1054" cy="358"/><text x="1054" y="360.5">_173</text></g>
<g id="r192" class="G"><circle cx="1073" cy="360"/><text x="1073" y="362.5">_105</text></g>
<g id="r193" class="G"><circle cx="1054" cy="381"/><text x="1054" y="383.5">_353</text></g>
<g id="r194" class="G"><circle cx="1070" cy="381"/><text x="1070" y="383.5">_77</text></g>
<g id="r195" class="G"><circle cx="1087" cy="373"/><text x="1087" y="375.5">_386</text></g>
<g id="r196" class="G"><circle cx="1092" cy="390"/><text x="1092" y="392.5">_110</text></g>
<g id="r197" class="G"><circle cx="1057" cy="400"/><text x="1057" y="402.5">_136</text></g>
<g id="r198" class="G"><circle cx="1073" cy="400"/><text x="1073" y="402.5">_271</text></g>
<g id="r199" class="G"><circle cx="1090" cy="408"/><text x="1090" y="410.5">_403</text></g>
<g id="r200" class="G"><circle cx="1071" cy="419"/><text x="1071" y="421.5">_99</text></g>
<g id="r201" class="G"><circle cx="1116" cy="443"/><text x="1116" y="445.5">_211</text></g>
<g id="r202" class="G"><circle cx="1142" cy="445"/><text x="1142" y="447.5">_153</text></g>
<g id="r203" class="G"><circle cx="1167" cy="446"/><text x="1167" y="448.5">_63</text></g>
<g id="r204" class="G"><circle cx="1089" cy="465"/><text x="1089" y="467.5">_79</text></g>
<g id="r205" class="G"><circle cx="1103" cy="459"/><text x="1103" y="461.5">_340</text></g>
<g id="r206" class="G"><circle cx="1129" cy="467"/><text x="1129" y="469.5">_43</text></g>
<g id="r207" class="G"><circle cx="1147" cy="461"/><text x="1147" y="463.5">_291</text></g>
<g id="r208" class="G"><circle cx="1160" cy="464"/><text x="1160" y="466.5">_202</text></g>
<g id="r209" class="G"><circle cx="1081" cy="480"/><text x="1081" y="482.5">_386</text></g>
<g id="r210" class="G"><circle cx="1102" cy="478"/><text x="1102" y="480.5">_329</text></g>
<g id="r211" class="G"><circle cx="1137" cy="490"/><text x="1137" y="492.5">_369</text></g>
<g id="r212" class="G"><circle cx="1083" cy="496"/><text x="1083" y="498.5">_199</text></g>
<g id="r213" class="G"><circle cx="1160" cy="499"/><text x="1160" y="501.5">_51</text></g>
<g id="r214" class="G"><circle cx="1122" cy="499"/><text x="1122" y="501.5">_227</text></g>
<g id="r215" class="G"><circle cx="1070" cy="510"/><text x="1070" y="512.5">_181</text></g>
<g id="r216" class="G"><circle cx="1108" cy="508"/><text x="1108" y="510.5">_17</text></g>
<g id="r217" class="G"><circle cx="1137" cy="507"/><text x="1137" y="509.5">_467</text></g>
<g id="r218" class="G"><circle cx="1159" cy="515"/><text x="1159" y="517.5">_351</text></g>
<g id="r219" class="G"><circle cx="1098" cy="522"/><text x="1098" y="524.5">_457</text></g>
<g id="r220" class="G"><circle cx="1122" cy="519"/><text x="1122" y="521.5">_31</text></g>
<g id="r221" class="G"><circle cx="1137" cy="522"/><text x="1137" y="524.5">_231</text></g>
<g id="r222" class="G"><circle cx="1087" cy="533"/><text x="1087" y="535.5">_25</text></g>
<g id="r223" class="G"><circle cx="1108" cy="535"/><text x="1108" y="537.5">_437</text></g>
<g id="r224" class="G"><circle cx="1125" cy="533"/><text x="1125" y="535.5">_143</text></g>
<g id="r225" class="G"><circle cx="1081" cy="557"/><text x="1081" y="559.5">_339</text></g>
<g id="r226" class="G"><circle cx="1098" cy="557"/><text x="1098" y="559.5">_6</text></g>
<g id="r227" class="G"><circle cx="1128" cy="573"/><text x="1128" y="575.5">_12</text></g>
<g id="r228" class="G"><circle cx="1143" cy="569"/><text x="1143" y="571.5">_73</text></g>
<g id="r229" class="G"><circle cx="1159" cy="568"/><text x="1159" y="570.5">_120</text></g>
<g id="r230" class="G"><circle cx="1102" cy="578"/><text x="1102" y="580.5">_410</text></g>
<g id="r231" class="G"><circle cx="1130" cy="589"/><text x="1130" y="591.5">_130</text></g>
<g id="r232" class="G"><circle cx="1148" cy="585"/><text x="1148" y="587.5">_95</text></g>
<g id="r233" class="G"><circle cx="1163" cy="582"/><text x="1163" y="584.5">_123</text></g>
<g id="r234" class="G"><circle cx="1080" cy="594"/><text x="1080" y="596.5">_358</text></g>
<g id="r235" class="G"><circle cx="1103" cy="594"/><text x="1103" y="596.5">_89</text></g>
<g id="r236" class="G"><circle cx="1140" cy="600"/><text x="1140" y="602.5">_129</text></g>
<g id="r237" class="G"><circle cx="1162" cy="596"/><text x="1162" y="598.5">_495</text></g>
<g id="r238" class="G"><circle cx="1153" cy="607"/><text x="1153" y="609.5">_72</text></g>
<g id="r239" class="G"><circle cx="1072" cy="612"/><text x="1072" y="614.5">_337</text></g>
<g id="r240" class="G"><circle cx="1093" cy="612"/><text x="1093" y="614.5">_259</text></g>
<g id="r241" class="G"><circle cx="1118" cy="612"/><text x="1118" y="614.5">_138</text></g>
<g id="r242" class="G"><circle cx="1130" cy="622"/><text x="1130" y="624.5">_104</text></g>
<g id="r243" class="G"><circle cx="1078" cy="628"/><text x="1078" y="630.5">_188</text></g>
<g id="r244" class="G"><circle cx="1098" cy="629"/><text x="1098" y="631.5">_150</text></g>
<g id="r245" class="G"><circle cx="1117" cy="630"/><text x="1117" y="632.5">_26</text></g>
<g id="r246" class="G"><circle cx="1135" cy="637"/><text x="1135" y="639.5">_260</text></g>
<g id="r247" class="G"><circle cx="1087" cy="644"/><text x="1087" y="646.5">_103</text></g>
<g id="r248" class="G"><circle cx="1105" cy="644"/><text x="1105" y="646.5">_292</text></g>
<g id="r249" class="G"><circle cx="1125" cy="650"/><text x="1125" y="652.5">_66</text></g>
<g id="r250" class="G"><circle cx="1093" cy="658"/><text x="1093" y="660.5">_412</text></g>
<g id="r251" class="G"><circle cx="1112" cy="660"/><text x="1112" y="662.5">_455</text></g>
<g id="r252" class="G"><circle cx="1035" cy="657"/><text x="1035" y="659.5">_57</text></g>
<g id="r253" class="G"><circle cx="1054" cy="662"/><text x="1054" y="664.5">_179</text></g>
<g id="r254" class="G"><circle cx="1026" cy="677"/><text x="1026" y="679.5">_268</text></g>
<g id="r255" class="R"><circle cx="987" cy="662"/><text x="987" y="664.5">_266</text></g>
<g id="r256" class="R"><circle cx="1004" cy="660"/><text x="1004" y="662.5">_460</text></g>
<g id="r257" class="R"><circle cx="968" cy="684"/><text x="968" y="686.5">_380</text></g>
<g id="r258" class="R"><circle cx="991" cy="677"/><text x="991" y="679.5">_404</text></g>
<g id="r259" class="R"><circle cx="966" cy="698"/><text x="966" y="700.5">_201</text></g>
<g id="r260" class="R"><circle cx="984" cy="698"/><text x="984" y="700.5">_31</text></g>
<g id="r261" class="R"><circle cx="1001" cy="702"/><text x="1001" y="704.5">_436</text></g>
<g id="r262" class="R"><circle cx="952" cy="712"/><text x="952" y="714.5">_296</text></g>
<g id="r263" class="R"><circle cx="975" cy="713"/><text x="975" y="715.5">_116</text></g>
<g id="r264" class="R"><circle cx="996" cy="718"/><text x="996" y="720.5">_468</text></g>
<g id="r265" class="R"><circle cx="958" cy="727"/><text x="958" y="729.5">_371</text></g>
<g id="r266" class="R"><circle cx="982" cy="727"/><text x="982" y="729.5">_199</text></g>
<g id="r267" class="R"><circle cx="963" cy="739"/><text x="963" y="741.5">_35</text></g>
<g id="r268" class="R"><circle cx="979" cy="741"/><text x="979" y="743.5">_55</text></g>
<g id="r269" class="R"><circle cx="952" cy="750"/><text x="952" y="752.5">_445</text></g>
<g id="r270" class="R"><circle cx="1003" cy="737"/><text x="1003" y="739.5">_355</text></g>
<g id="r271" class="R"><circle cx="922" cy="745"/><text x="922" y="747.5">_37</text></g>
<g id="r272" class="R"><circle cx="930" cy="753"/><text x="930" y="755.5">_15</text></g>
<g id="r273" class="R"><circle cx="927" cy="681"/><text x="927" y="683.5">_288</text></g>
<g id="r274" class="R"><circle cx="1063" cy="793"/><text x="1063" y="795.5">_248</text></g>
<g id="r275" class="G"><circle cx="674" cy="408"/><text x="674" y="410.5">_1</text></g>
<g id="r276" class="G"><circle cx="667" cy="420"/><text x="667" y="422.5">_497</text></g>
<g id="r277" class="G"><circle cx="573" cy="420"/><text x="573" y="422.5">_370</text></g>
<g id="r278" class="G"><circle cx="562" cy="425"/><text x="562" y="427.5">_148</text></g>
<g id="r279" class="G"><circle cx="585" cy="426"/><text x="585" y="428.5">_259</text></g>
<g id="r280" class="G"><circle cx="550" cy="432"/><text x="550" y="434.5">_228</text></g>
<g id="r281" class="G"><circle cx="573" cy="437"/><text x="573" y="439.5">_190</text></g>
<g id="r282" class="G"><circle cx="543" cy="443"/><text x="543" y="445.5">_338</text></g>
<g id="r283" class="G"><circle cx="559" cy="443"/><text x="559" y="445.5">_290</text></g>
<g id="r284" class="G"><circle cx="595" cy="443"/><text x="595" y="445.5">_142</text></g>
<g id="r285" class="G"><circle cx="642" cy="437"/><text x="642" y="439.5">_90</text></g>
<g id="r286" class="G"><circle cx="635" cy="447"/><text x="635" y="449.5">_14</text></g>
<g id="r287" class="G"><circle cx="650" cy="450"/><text x="650" y="452.5">_111</text></g>
<g id="r288" class="G"><circle cx="688" cy="448"/><text x="688" y="450.5">_280</text></g>
<g id="r289" class="G"><circle cx="534" cy="454"/><text x="534" y="456.5">_436</text></g>
<g id="r290" class="G"><circle cx="551" cy="457"/><text x="551" y="459.5">_272</text></g>
<g id="r291" class="G"><circle cx="567" cy="453"/><text x="567" y="455.5">_451</text></g>
<g id="r292" class="G"><circle cx="587" cy="461"/><text x="587" y="463.5">_157</text></g>
<g id="r293" class="G"><circle cx="610" cy="467"/><text x="610" y="469.5">_117</text></g>
<g id="r294" class="G"><circle cx="633" cy="463"/><text x="633" y="465.5">_296</text></g>
<g id="r295" class="G"><circle cx="528" cy="466"/><text x="528" y="468.5">_20</text></g>
<g id="r296" class="G"><circle cx="543" cy="471"/><text x="543" y="473.5">_144</text></g>
<g id="r297" class="G"><circle cx="560" cy="470"/><text x="560" y="472.5">_18</text></g>
<g id="r298" class="G"><circle cx="647" cy="469"/><text x="647" y="471.5">_50</text></g>
<g id="r299" class="G"><circle cx="666" cy="475"/><text x="666" y="477.5">_206</text></g>
<g id="r300" class="G"><circle cx="682" cy="468"/><text x="682" y="470.5">_182</text></g>
<g id="r301" class="G"><circle cx="683" cy="480"/><text x="683" y="482.5">_108</text></g>
<g id="r302" class="G"><circle cx="532" cy="480"/><text x="532" y="482.5">_465</text></g>
<g id="r303" class="G"><circle cx="553" cy="485"/><text x="553" y="487.5">_220</text></g>
<g id="r304" class="G"><circle cx="593" cy="482"/><text x="593" y="484.5">_200</text></g>
<g id="r305" class="G"><circle cx="523" cy="494"/><text x="523" y="496.5">_334</text></g>
<g id="r306" class="G"><circle cx="542" cy="493"/><text x="542" y="495.5">_232</text></g>
<g id="r307" class="G"><circle cx="590" cy="495"/><text x="590" y="497.5">_137</text></g>
<g id="r308" class="G"><circle cx="645" cy="490"/><text x="645" y="492.5">_109</text></g>
<g id="r309" class="G"><circle cx="667" cy="488"/><text x="667" y="490.5">_39</text></g>
<g id="r310" class="G"><circle cx="683" cy="491"/><text x="683" y="493.5">_28</text></g>
<g id="r311" class="G"><circle cx="568" cy="499"/><text x="568" y="501.5">_154</text></g>
<g id="r312" class="G"><circle cx="658" cy="499"/><text x="658" y="501.5">_183</text></g>
<g id="r313" class="G"><circle cx="673" cy="500"/><text x="673" y="502.5">_147</text></g>
<g id="r314" class="G"><circle cx="717" cy="477"/><text x="717" y="479.5">_75</text></g>
<g id="r315" class="G"><circle cx="726" cy="465"/><text x="726" y="467.5">_4</text></g>
<g id="r316" class="G"><circle cx="743" cy="463"/><text x="743" y="465.5">_399</text></g>
<g id="r317" class="G"><circle cx="733" cy="482"/><text x="733" y="484.5">_156</text></g>
<g id="r318" class="G"><circle cx="747" cy="475"/><text x="747" y="477.5">_392</text></g>
<g id="r319" class="G"><circle cx="727" cy="495"/><text x="727" y="497.5">_289</text></g>
<g id="r320" class="G"><circle cx="712" cy="502"/><text x="712" y="504.5">_180</text></g>
<g id="r321" class="G"><circle cx="612" cy="506"/><text x="612" y="508.5">_294</text></g>
<g id="r322" class="G"><circle cx="533" cy="507"/><text x="533" y="509.5">_509</text></g>
<g id="r323" class="G"><circle cx="547" cy="509"/><text x="547" y="511.5">_84</text></g>
<g id="r324" class="G"><circle cx="657" cy="513"/><text x="657" y="515.5">_108</text></g>
<g id="r325" class="G"><circle cx="672" cy="512"/><text x="672" y="514.5">_506</text></g>
<g id="r326" class="G"><circle cx="573" cy="517"/><text x="573" y="519.5">_59</text></g>
<g id="r327" class="U"><circle cx="702" cy="517"/><text x="702" y="519.5">_54</text></g>
<g id="r328" class="G"><circle cx="535" cy="519"/><text x="535" y="521.5">_289</text></g>
<g id="r329" class="G"><circle cx="599" cy="519"/><text x="599" y="521.5">_293</text></g>
<g id="r330" class="G"><circle cx="641" cy="522"/><text x="641" y="524.5">_126</text></g>
<g id="r331" class="G"><circle cx="658" cy="526"/><text x="658" y="528.5">_341</text></g>
<g id="r332" class="G"><circle cx="675" cy="526"/><text x="675" y="528.5">_240</text></g>
<g id="r333" class="G"><circle cx="558" cy="526"/><text x="558" y="528.5">_32</text></g>
<g id="r334" class="G"><circle cx="542" cy="531"/><text x="542" y="533.5">_442</text></g>
<g id="r335" class="G"><circle cx="585" cy="531"/><text x="585" y="533.5">_80</text></g>
<g id="r336" class="U"><circle cx="609" cy="535"/><text x="609" y="537.5">_107</text></g>
<g id="r337" class="G"><circle cx="573" cy="538"/><text x="573" y="540.5">_352</text></g>
<g id="r338" class="G"><circle cx="557" cy="540"/><text x="557" y="542.5">_374</text></g>
<g id="r339" class="G"><circle cx="638" cy="537"/><text x="638" y="539.5">_397</text></g>
<g id="r340" class="G"><circle cx="657" cy="537"/><text x="657" y="539.5">_94</text></g>
<g id="r341" class="G"><circle cx="700" cy="536"/><text x="700" y="538.5">_274</text></g>
<g id="r342" class="F"><circle cx="729" cy="535"/><text x="729" y="537.5">_21</text></g>
<g id="r343" class="F"><circle cx="759" cy="535"/><text x="759" y="537.5">_237</text></g>
<g id="r344" class="G"><circle cx="597" cy="547"/><text x="597" y="549.5">_502</text></g>
<g id="r345" class="G"><circle cx="568" cy="552"/><text x="568" y="554.5">_52</text></g>
<g id="r346" class="G"><circle cx="581" cy="554"/><text x="581" y="556.5">_29</text></g>
<g id="r347" class="G"><circle cx="627" cy="557"/><text x="627" y="559.5">_493</text></g>
<g id="r348" class="G"><circle cx="643" cy="558"/><text x="643" y="560.5">_277</text></g>
<g id="r349" class="G"><circle cx="684" cy="555"/><text x="684" y="557.5">_197</text></g>
<g id="r350" class="G"><circle cx="699" cy="558"/><text x="699" y="560.5">_284</text></g>
<g id="r351" class="G"><circle cx="686" cy="573"/><text x="686" y="575.5">_312</text></g>
<g id="r352" class="G"><circle cx="706" cy="588"/><text x="706" y="590.5">_490</text></g>
<g id="r353" class="G"><circle cx="633" cy="593"/><text x="633" y="595.5">_121</text></g>
<g id="r354" class="G"><circle cx="649" cy="593"/><text x="649" y="595.5">_494</text></g>
<g id="r355" class="F"><circle cx="777" cy="497"/><text x="777" y="499.5">_27</text></g>
<g id="r356" class="F"><circle cx="877" cy="485"/><text x="877" y="487.5">_347</text></g>
<g id="r357" class="F"><circle cx="790" cy="521"/><text x="790" y="523.5">_50</text></g>
<g id="r358" class="F"><circle cx="803" cy="517"/><text x="803" y="519.5">_209</text></g>
<g id="r359" class="F"><circle cx="777" cy="529"/><text x="777" y="531.5">_148</text></g>
<g id="r360" class="F"><circle cx="795" cy="534"/><text x="795" y="536.5">_213</text></g>
<g id="r361" class="F"><circle cx="813" cy="527"/><text x="813" y="529.5">_439</text></g>
<g id="r362" class="F"><circle cx="830" cy="533"/><text x="830" y="535.5">_215</text></g>
<g id="r363" class="F"><circle cx="783" cy="541"/><text x="783" y="543.5">_51</text></g>
<g id="r364" class="F"><circle cx="770" cy="546"/><text x="770" y="548.5">_17</text></g>
<g id="r365" class="F"><circle cx="793" cy="548"/><text x="793" y="550.5">_42</text></g>
<g id="r366" class="F"><circle cx="807" cy="543"/><text x="807" y="545.5">_206</text></g>
<g id="r367" class="F"><circle cx="838" cy="547"/><text x="838" y="549.5">_224</text></g>
<g id="r368" class="F"><circle cx="749" cy="553"/><text x="749" y="555.5">_461</text></g>
<g id="r369" class="F"><circle cx="780" cy="556"/><text x="780" y="558.5">_218</text></g>
<g id="r370" class="F"><circle cx="807" cy="556"/><text x="807" y="558.5">_64</text></g>
<g id="r371" class="F"><circle cx="824" cy="555"/><text x="824" y="557.5">_368</text></g>
<g id="r372" class="F"><circle cx="738" cy="561"/><text x="738" y="563.5">_463</text></g>
<g id="r373" class="F"><circle cx="763" cy="563"/><text x="763" y="565.5">_68</text></g>
<g id="r374" class="F"><circle cx="795" cy="562"/><text x="795" y="564.5">_116</text></g>
<g id="r375" class="F"><circle cx="737" cy="572"/><text x="737" y="574.5">_486</text></g>
<g id="r376" class="F"><circle cx="756" cy="575"/><text x="756" y="577.5">_63</text></g>
<g id="r377" class="F"><circle cx="775" cy="570"/><text x="775" y="572.5">_320</text></g>
<g id="r378" class="F"><circle cx="791" cy="576"/><text x="791" y="578.5">_363</text></g>
<g id="r379" class="F"><circle cx="814" cy="576"/><text x="814" y="578.5">_258</text></g>
<g id="r380" class="F"><circle cx="723" cy="583"/><text x="723" y="585.5">_250</text></g>
<g id="r381" class="F"><circle cx="748" cy="588"/><text x="748" y="590.5">_447</text></g>
<g id="r382" class="F"><circle cx="763" cy="590"/><text x="763" y="592.5">_22</text></g>
<g id="r383" class="F"><circle cx="778" cy="586"/><text x="778" y="588.5">_465</text></g>
<g id="r384" class="F"><circle cx="718" cy="600"/><text x="718" y="602.5">_76</text></g>
<g id="r385" class="F"><circle cx="738" cy="603"/><text x="738" y="605.5">_229</text></g>
<g id="r386" class="F"><circle cx="756" cy="601"/><text x="756" y="603.5">_225</text></g>
<g id="r387" class="F"><circle cx="862" cy="565"/><text x="862" y="567.5">_207</text></g>
<g id="r388" class="F"><circle cx="877" cy="569"/><text x="877" y="571.5">_399</text></g>
<g id="r389" class="F"><circle cx="852" cy="577"/><text x="852" y="579.5">_429</text></g>
<g id="r390" class="F"><circle cx="865" cy="582"/><text x="865" y="584.5">_281</text></g>
<g id="r391" class="F"><circle cx="882" cy="579"/><text x="882" y="581.5">_223</text></g>
<g id="r392" class="F"><circle cx="843" cy="588"/><text x="843" y="590.5">_282</text></g>
<g id="r393" class="F"><circle cx="878" cy="591"/><text x="878" y="593.5">_58</text></g>
<g id="r394" class="F"><circle cx="898" cy="593"/><text x="898" y="595.5">_24</text></g>
<g id="r395" class="F"><circle cx="853" cy="599"/><text x="853" y="601.5">_43</text></g>
<g id="r396" class="F"><circle cx="868" cy="600"/><text x="868" y="602.5">_430</text></g>
<g id="r397" class="F"><circle cx="885" cy="600"/><text x="885" y="602.5">_87</text></g>
<g id="r398" class="F"><circle cx="872" cy="611"/><text x="872" y="613.5">_23</text></g>
<g id="r399" class="F"><circle cx="892" cy="611"/><text x="892" y="613.5">_489</text></g>
<g id="r400" class="F"><circle cx="882" cy="622"/><text x="882" y="624.5">_432</text></g>
<g id="r401" class="F"><circle cx="824" cy="618"/><text x="824" y="620.5">_204</text></g>
<g id="r402" class="F"><circle cx="792" cy="624"/><text x="792" y="626.5">_188</text></g>
<g id="r403" class="F"><circle cx="807" cy="620"/><text x="807" y="622.5">_439</text></g>
<g id="r404" class="F"><circle cx="838" cy="624"/><text x="838" y="626.5">_14</text></g>
<g id="r405" class="F"><circle cx="818" cy="629"/><text x="818" y="631.5">_219</text></g>
<g id="r406" class="F"><circle cx="764" cy="632"/><text x="764" y="634.5">_362</text></g>
<g id="r407" class="F"><circle cx="782" cy="634"/><text x="782" y="636.5">_207</text></g>
<g id="r408" class="F"><circle cx="852" cy="628"/><text x="852" y="630.5">_38</text></g>
<g id="r409" class="F"><circle cx="807" cy="636"/><text x="807" y="638.5">_369</text></g>
<g id="r410" class="F"><circle cx="793" cy="642"/><text x="793" y="644.5">_301</text></g>
<g id="r411" class="F"><circle cx="835" cy="637"/><text x="835" y="639.5">_114</text></g>
<g id="r412" class="F"><circle cx="862" cy="637"/><text x="862" y="639.5">_440</text></g>
<g id="r413" class="F"><circle cx="763" cy="646"/><text x="763" y="648.5">_210</text></g>
<g id="r414" class="F"><circle cx="820" cy="645"/><text x="820" y="647.5">_217</text></g>
<g id="r415" class="F"><circle cx="847" cy="645"/><text x="847" y="647.5">_203</text></g>
<g id="r416" class="F"><circle cx="874" cy="645"/><text x="874" y="647.5">_69</text></g>
<g id="r417" class="F"><circle cx="741" cy="649"/><text x="741" y="651.5">_214</text></g>
<g id="r418" class="F"><circle cx="776" cy="652"/><text x="776" y="654.5">_5</text></g>
<g id="r419" class="F"><circle cx="803" cy="651"/><text x="803" y="653.5">_487</text></g>
<g id="r420" class="F"><circle cx="859" cy="652"/><text x="859" y="654.5">_448</text></g>
<g id="r421" class="F"><circle cx="755" cy="659"/><text x="755" y="661.5">_175</text></g>
<g id="r422" class="F"><circle cx="789" cy="659"/><text x="789" y="661.5">_367</text></g>
<g id="r423" class="F"><circle cx="816" cy="658"/><text x="816" y="660.5">_60</text></g>
<g id="r424" class="F"><circle cx="833" cy="656"/><text x="833" y="658.5">_230</text></g>
<g id="r425" class="F"><circle cx="870" cy="660"/><text x="870" y="662.5">_159</text></g>
<g id="r426" class="F"><circle cx="886" cy="656"/><text x="886" y="658.5">_115</text></g>
<g id="r427" class="F"><circle cx="849" cy="662"/><text x="849" y="664.5">_319</text></g>
<g id="r428" class="F"><circle cx="772" cy="666"/><text x="772" y="668.5">_11</text></g>
<g id="r429" class="F"><circle cx="803" cy="668"/><text x="803" y="670.5">_55</text></g>
<g id="r430" class="F"><circle cx="820" cy="670"/><text x="820" y="672.5">_41</text></g>
<g id="r431" class="F"><circle cx="836" cy="670"/><text x="836" y="672.5">_221</text></g>
<g id="r432" class="F"><circle cx="864" cy="672"/><text x="864" y="674.5">_239</text></g>
<g id="r433" class="F"><circle cx="758" cy="675"/><text x="758" y="677.5">_169</text></g>
<g id="r434" class="F"><circle cx="782" cy="677"/><text x="782" y="679.5">_17</text></g>
<g id="r435" class="F"><circle cx="796" cy="681"/><text x="796" y="683.5">_65</text></g>
<g id="r436" class="F"><circle cx="811" cy="681"/><text x="811" y="683.5">_52</text></g>
<g id="r437" class="F"><circle cx="850" cy="677"/><text x="850" y="679.5">_212</text></g>
<g id="r438" class="F"><circle cx="826" cy="686"/><text x="826" y="688.5">_176</text></g>
<g id="r439" class="F"><circle cx="842" cy="687"/><text x="842" y="689.5">_177</text></g>
<g id="r440" class="R"><circle cx="643" cy="615"/><text x="643" y="617.5">_106</text></g>
<g id="r441" class="G"><circle cx="659" cy="628"/><text x="659" y="630.5">_88</text></g>
<g id="r442" class="G"><circle cx="644" cy="635"/><text x="644" y="637.5">_124</text></g>
<g id="r443" class="G"><circle cx="673" cy="635"/><text x="673" y="637.5">_234</text></g>
<g id="r444" class="G"><circle cx="663" cy="645"/><text x="663" y="647.5">_96</text></g>
<g id="r445" class="G"><circle cx="645" cy="647"/><text x="645" y="649.5">_71</text></g>
<g id="r446" class="G"><circle cx="687" cy="650"/><text x="687" y="652.5">_344</text></g>
<g id="r447" class="G"><circle cx="657" cy="658"/><text x="657" y="660.5">_129</text></g>
<g id="r448" class="G"><circle cx="670" cy="664"/><text x="670" y="666.5">_74</text></g>
<g id="r449" class="R"><circle cx="719" cy="657"/><text x="719" y="659.5">_163</text></g>
<g id="r450" class="G"><circle cx="737" cy="668"/><text x="737" y="670.5">_67</text></g>
<g id="r451" class="G"><circle cx="738" cy="680"/><text x="738" y="682.5">_101</text></g>
<g id="r452" class="G"><circle cx="723" cy="685"/><text x="723" y="687.5">_189</text></g>
<g id="r453" class="G"><circle cx="762" cy="692"/><text x="762" y="694.5">_178</text></g>
<g id="r454" class="R"><circle cx="695" cy="698"/><text x="695" y="700.5">_167</text></g>
<g id="r455" class="F"><circle cx="694" cy="712"/><text x="694" y="714.5">_457</text></g>
<g id="r456" class="R"><circle cx="865" cy="691"/><text x="865" y="693.5">_383</text></g>
<g id="r457" class="F"><circle cx="847" cy="701"/><text x="847" y="703.5">_233</text></g>
<g id="r458" class="G"><circle cx="845" cy="716"/><text x="845" y="718.5">_391</text></g>
<g id="r459" class="G"><circle cx="862" cy="714"/><text x="862" y="716.5">_391</text></g>
<g id="r460" class="F"><circle cx="719" cy="722"/><text x="719" y="724.5">_488</text></g>
<g id="r461" class="F"><circle cx="743" cy="723"/><text x="743" y="725.5">_503</text></g>
<g id="r462" class="F"><circle cx="758" cy="727"/><text x="758" y="729.5">_328</text></g>
<g id="r463" class="F"><circle cx="773" cy="726"/><text x="773" y="728.5">_125</text></g>
<g id="r464" class="F"><circle cx="788" cy="732"/><text x="788" y="734.5">_112</text></g>
<g id="r465" class="F"><circle cx="808" cy="721"/><text x="808" y="723.5">_226</text></g>
<g id="r466" class="F"><circle cx="823" cy="729"/><text x="823" y="731.5">_73</text></g>
<g id="r467" class="F"><circle cx="743" cy="737"/><text x="743" y="739.5">_32</text></g>
<g id="r468" class="F"><circle cx="756" cy="741"/><text x="756" y="743.5">_470</text></g>
<g id="r469" class="F"><circle cx="772" cy="741"/><text x="772" y="743.5">_270</text></g>
<g id="r470" class="F"><circle cx="803" cy="737"/><text x="803" y="739.5">_441</text></g>
<g id="r471" class="F"><circle cx="820" cy="743"/><text x="820" y="745.5">_152</text></g>
<g id="r472" class="F"><circle cx="785" cy="747"/><text x="785" y="749.5">_22</text></g>
<g id="r473" class="F"><circle cx="762" cy="752"/><text x="762" y="754.5">_452</text></g>
<g id="r474" class="F"><circle cx="797" cy="753"/><text x="797" y="755.5">_364</text></g>
<g id="r475" class="F"><circle cx="772" cy="756"/><text x="772" y="758.5">_475</text></g>
<g id="r476" class="F"><circle cx="783" cy="761"/><text x="783" y="763.5">_411</text></g>
<g id="r477" class="F"><circle cx="795" cy="765"/><text x="795" y="767.5">_20</text></g>
<g id="r478" class="F"><circle cx="813" cy="762"/><text x="813" y="764.5">_70</text></g>
<g id="r479" class="F"><circle cx="817" cy="775"/><text x="817" y="777.5">_14</text></g>
<g id="r480" class="F"><circle cx="815" cy="785"/><text x="815" y="787.5">_334</text></g>
<g id="r481" class="F"><circle cx="857" cy="743"/><text x="857" y="745.5">_413</text></g>
<g id="r482" class="F"><circle cx="845" cy="752"/><text x="845" y="754.5">_261</text></g>
</g>
<g id="hubs" class="hub">
<g id="h-cbm0"><polygon points="164,29 177,46 164,63 151,46"/><text x="154" y="55">CBM0</text></g>
<g id="h-aa9"><polygon points="216,310 229,327 216,344 203,327"/><text x="217" y="336">AA9</text></g>
<g id="h-cbm1"><polygon points="408,446 421,463 408,480 395,463"/><text x="418" y="472">CBM1</text></g>
<g id="h-cbm2"><polygon points="775,0 788,17 775,34 762,17"/><text x="775" y="26">CBM2</text></g>
<g id="h-aa10"><polygon points="857,426 870,443 857,460 844,443"/><text x="857" y="452">AA10</text></g>
<g id="h-cbm3"><polygon points="1148,273 1161,290 1148,307 1135,290"/><text x="1156" y="312">CBM3</text></g>
<g id="h-gh44"><polygon points="1162,328 1175,345 1162,362 1149,345"/><text x="1160" y="354">GH44</text></g>
<g id="h-gh5"><polygon points="1136,356 1149,373 1136,390 1123,373"/><text x="1115" y="384">GH5</text></g>
<g id="h-cbm5"><polygon points="1160,745 1173,762 1160,779 1147,762"/><text x="1166" y="798">CBM5</text></g>
<g id="h-gh18"><polygon points="1056,761 1069,778 1056,795 1043,778"/><text x="1066" y="813">GH18</text></g>
<g id="h-cbm12"><polygon points="864,823 877,840 864,857 851,840"/><text x="864" y="851">CBM12</text></g>
</g>
<g id="legend" class="lg">
<g id="lg-asco" class="A"><circle cx="19" cy="607"/><text x="43" y="615">Ascomycota</text></g>
<g id="lg-basi" class="B"><circle cx="19" cy="632"/><text x="43" y="640">Basidiomycota</text></g>
<g id="lg-meta" class="M"><circle cx="19" cy="657"/><text x="43" y="665">Metazoa</text></g>
<g id="lg-unk1" class="U"><circle cx="19" cy="682"/><text x="43" y="690">Unknown</text></g>
<g id="lg-acti" class="R"><circle cx="408" cy="607"/><text x="432" y="615">Actinobacteria</text></g>
<g id="lg-prot" class="G"><circle cx="408" cy="632"/><text x="432" y="640">Proteobacteria</text></g>
<g id="lg-firm" class="F"><circle cx="408" cy="657"/><text x="432" y="665">Firmicutes</text></g>
<g id="lg-unk2" class="U"><circle cx="408" cy="682"/><text x="432" y="690">Unknown</text></g>
</g>
</svg>
